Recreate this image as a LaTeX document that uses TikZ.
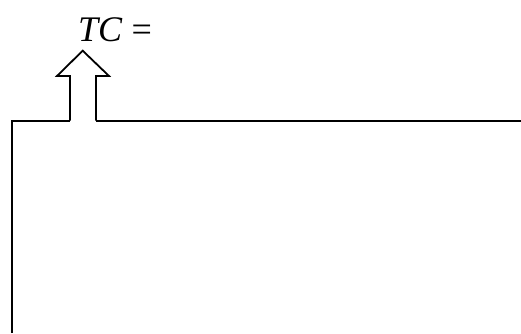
\documentclass[tikz,border=0pt]{standalone}
\usepackage{fontspec}
\setmainfont{Liberation Serif}
\usetikzlibrary{positioning}
\tikzset{
  wall/.style={line width=2pt,black},
  uparrow/.style={line width=1.8pt,black,line join=miter},
  tclab/.style={font=\fontsize{36}{40}\selectfont,inner sep=0pt,anchor=base west},
  every picture/.style={x=1pt,y=-1pt}
}
\begin{document}
\begin{tikzpicture}
  \useasboundingbox (0,0) rectangle (521,333);
  \coordinate (corner) at (12,120.7); \coordinate (floor) at (12,333);
  \coordinate (sl) at (70,120.7); \coordinate (sr) at (96,120.7); \coordinate (edge) at (521,120.7);
  \coordinate (bl) at (70,76); \coordinate (br) at (96,76);
  \coordinate (hl) at (57,76); \coordinate (hr) at (109,76); \coordinate (tip) at (82.7,50.7);
  \draw[wall] (floor) -- (corner) -- (sl);
  \draw[wall] (sr) -- (edge);
  \draw[uparrow] (sl) -- (bl) -- (hl) -- (tip) -- (hr) -- (br) -- (sr);
  \node[tclab] (tc) at (78,41.5) {\textit{TC} =};
\end{tikzpicture}
\end{document}
